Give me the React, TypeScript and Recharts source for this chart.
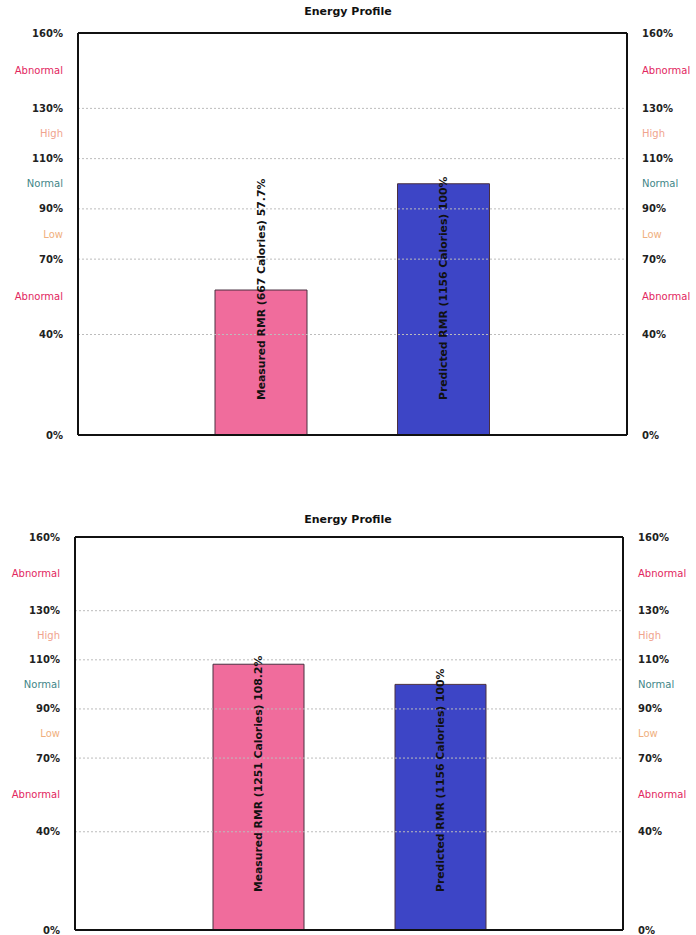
import { Bar, BarChart, Cell, LabelList, ReferenceLine, XAxis, YAxis } from 'recharts'

// Two bars per profile: measured vs predicted resting metabolic rate
const barNames = ['Measured RMR', 'Predicted RMR']
const firstPercent = [57.7, 100]
const firstCalories = [667, 1156]
const secondPercent = [108.2, 100]
const secondCalories = [1251, 1156]

// Axis ticks and the zone names that sit between them
const percentTicks = [0, 40, 70, 90, 110, 130, 160]
const gridLevels = [40, 70, 90, 110, 130]
const zoneNames = ['Abnormal', 'Low', 'Normal', 'High', 'Abnormal']
const zoneCenters = [55, 80, 100, 120, 145]

const barColors = ['#f06c9c', '#3d45c6']
const zoneColors: Record<string, string> = {
  Abnormal: '#e2265e',
  Low: '#f0b07e',
  Normal: '#3f8688',
  High: '#f0a48e',
}

const FONT = '"DejaVu Sans", Verdana, sans-serif'
const allTicks = [...percentTicks, ...zoneCenters].sort((a, b) => a - b)

function PercentTick(props: any) {
  const { x, y, payload, textAnchor } = props
  const v = payload.value
  const zi = zoneCenters.indexOf(v)
  if (zi >= 0) {
    const name = zoneNames[zi]
    return (
      <text x={x} y={y} textAnchor={textAnchor} dominantBaseline="central"
        fontFamily={FONT} fontSize={10} fill={zoneColors[name]}>
        {name}
      </text>
    )
  }
  return (
    <text x={x} y={y} textAnchor={textAnchor} dominantBaseline="central"
      fontFamily={FONT} fontSize={10} fontWeight="bold" fill="#222">
      {v}%
    </text>
  )
}

interface ProfileProps {
  percents: number[]
  calories: number[]
  height: number
  margin: { top: number; bottom: number }
  leftWidth: number
  rightWidth: number
  barSize: number
  pad: number
  lift: number
  titleY: number
}

function EnergyProfile({ percents, calories, height, margin, leftWidth, rightWidth, barSize, pad, lift, titleY }: ProfileProps) {
  const data = barNames.map((name, i) => ({
    name,
    value: percents[i],
    label: `${name} (${calories[i]} Calories) ${percents[i]}%`,
  }))

  const renderLabel = (p: any) => {
    const cx = p.x + p.width / 2
    const base = p.y + p.height - lift
    return (
      <text x={cx} y={base} transform={`rotate(-90 ${cx} ${base})`} textAnchor="start"
        dominantBaseline="central" fontFamily={FONT} fontSize={10.8} fontWeight="bold" fill="#111">
        {data[p.index].label}
      </text>
    )
  }

  return (
    <div style={{ position: 'relative', width: 696, height }}>
      <div style={{ position: 'absolute', left: 0, width: 696, top: titleY, textAlign: 'center',
        fontFamily: FONT, fontSize: 11, fontWeight: 'bold', color: '#111' }}>
        Energy Profile
      </div>
      <BarChart width={696} height={height} data={data}
        margin={{ top: margin.top, bottom: margin.bottom, left: 0, right: 0 }}>
        <XAxis dataKey="name" hide padding={{ left: pad, right: pad }} />
        <YAxis yAxisId="left" type="number" domain={[0, 160]} allowDataOverflow ticks={allTicks}
          interval={0} width={leftWidth} tickSize={0} tickMargin={15} tick={<PercentTick />}
          axisLine={{ stroke: '#111', strokeWidth: 2 }} tickLine={false} />
        <YAxis yAxisId="right" type="number" orientation="right" domain={[0, 160]} allowDataOverflow
          ticks={allTicks} interval={0} width={rightWidth} tickSize={0} tickMargin={15}
          tick={<PercentTick />} axisLine={{ stroke: '#111', strokeWidth: 2 }} tickLine={false} />
        {gridLevels.map((g) => (
          <ReferenceLine key={g} yAxisId="left" y={g} stroke="#bcbcbc" strokeDasharray="2 2" />
        ))}
        <Bar yAxisId="left" dataKey="value" barSize={barSize} stroke="#4a3040" strokeWidth={1}
          isAnimationActive={false}>
          {data.map((d, i) => (
            <Cell key={d.name} fill={barColors[i]} />
          ))}
          <LabelList dataKey="label" content={renderLabel} />
        </Bar>
        {/* plot frame; the right-axis lines also give that axis its range */}
        <ReferenceLine yAxisId="right" y={160} stroke="#111" strokeWidth={2} ifOverflow="extendDomain" />
        <ReferenceLine yAxisId="right" y={0} stroke="#111" strokeWidth={2} ifOverflow="extendDomain" />
      </BarChart>
    </div>
  )
}

export default function App() {
  return (
    <div style={{ position: 'absolute', left: 0, top: 0, width: 696, height: 935, background: '#fff' }}>
      <EnergyProfile percents={firstPercent} calories={firstCalories} height={445}
        margin={{ top: 33, bottom: 10 }} leftWidth={78} rightWidth={69} barSize={92} pad={92}
        lift={35} titleY={5} />
      <EnergyProfile percents={secondPercent} calories={secondCalories} height={490}
        margin={{ top: 92, bottom: 5 }} leftWidth={75} rightWidth={73} barSize={91} pad={92}
        lift={38} titleY={68} />
    </div>
  )
}
